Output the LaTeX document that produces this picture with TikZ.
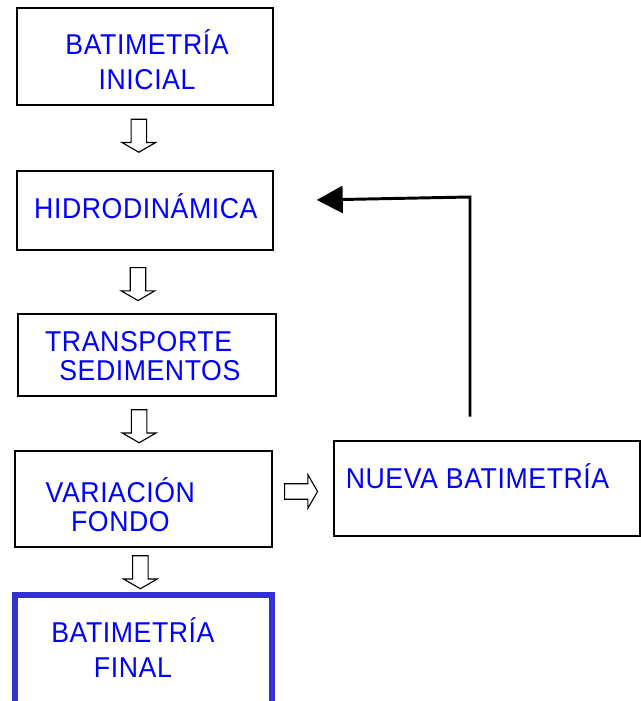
\documentclass[tikz,border=0pt]{standalone}
\usepackage{fontspec}
\setmainfont{Liberation Sans}[FakeStretch=0.93, LetterSpace=2]
\usepackage{tikz}
\usetikzlibrary{shapes.arrows,arrows.meta}

\definecolor{bordefinal}{RGB}{51,51,204}

\tikzset{
    caja/.style={draw, line width=1.4pt, minimum width=6.41cm, inner sep=0pt},
    texto/.style={text=blue, align=center, inner sep=0pt,
        font=\fontsize{20.4}{24.9}\selectfont},
    hueca/.style={single arrow, draw, line width=0.8pt,
        inner xsep=0pt, inner ysep=0.18cm,
        minimum height=0.825cm, minimum width=0.8125cm,
        single arrow head extend=0.225cm, single arrow tip angle=120}
}

\begin{document}
\begin{tikzpicture}

\useasboundingbox (0,0) rectangle (16.025,17.525);

% cajas
\node[caja, minimum height=2.42cm] (ini) at (3.621,16.109) {};
\node[caja, minimum height=1.97cm] (hidro) at (3.621,12.266) {};
\node[caja, minimum width=6.44cm, minimum height=2.07cm] (trans) at (3.675,8.65) {};
\node[caja, minimum width=6.42cm, minimum height=2.39cm] (var) at (3.584,5.054) {};
\node[caja, draw=bordefinal, line width=4.3pt, minimum width=6.43cm,
      minimum height=3cm] (fin) at (3.584,1.1575) {};
\node[caja, minimum width=7.65cm, minimum height=2.37cm] (nueva) at (12.168,5.316) {};

% textos
\node[texto] (t1) at (3.676,16.04) {BATIMETRÍA\\INICIAL};
\node[texto] (t2) at (3.646,12.366) {HIDRODINÁMICA};
\node[texto] (t3) at (3.605,8.625) {TRANSPORTE\hspace*{0.28cm}\\[-4pt]\hspace*{0.28cm}SEDIMENTOS};
\node[texto] (t4) at (3.009,4.908) {VARIACIÓN\\[-3.6pt]FONDO};
\node[texto] (t5) at (3.323,1.33) {BATIMETRÍA\\FINAL};
\node[texto] (t6) at (11.938,5.616) {NUEVA BATIMETRÍA};

% flechas huecas
\node[hueca, rotate=-90] (a1) at (3.471,14.1875) {};
\node[hueca, rotate=-90] (a2) at (3.45,10.479) {};
\node[hueca, rotate=-90] (a3) at (3.479,6.925) {};
\node[hueca, rotate=-90] (a4) at (3.509,3.275) {};
\node[hueca] (a5) at (7.471,5.2375) {};

% retorno
\coordinate (sal) at (11.75,7.108);
\coordinate (codo) at (11.75,12.6);
\coordinate (punta) at (7.918,12.525);
\draw[line width=2.1pt, -{Triangle[length=0.65cm, width=0.675cm]}]
    (sal) -- (codo) -- (punta);

\end{tikzpicture}
\end{document}
